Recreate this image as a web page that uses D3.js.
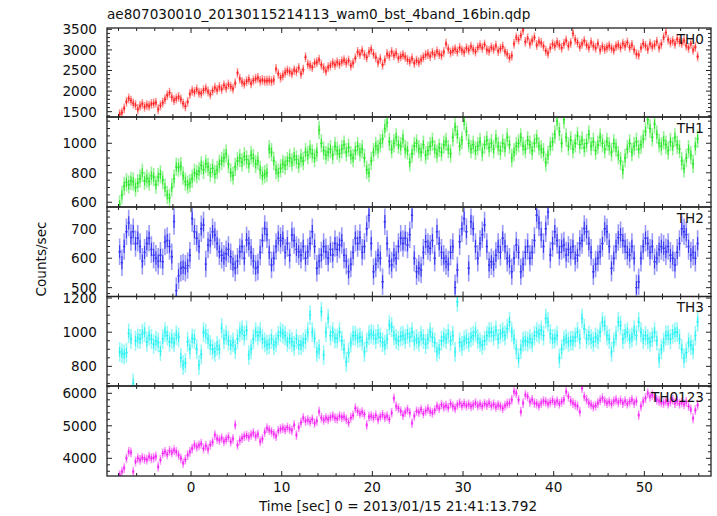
<!DOCTYPE html>
<html><head><meta charset="utf-8">
<script src="https://cdn.jsdelivr.net/npm/d3@7"></script>
<style>body{margin:0;background:#fff}svg{display:block}text{font-family:"DejaVu Sans",sans-serif;fill:#111}</style>
</head><body><svg id="c" width="717" height="516"></svg>
<script>
// ---- data ----
const titleText = "ae807030010_20130115214113_wam0_bst_4band_16bin.qdp";
const xLabel = "Time [sec] 0 = 2013/01/15 21:41:13.792";
const yLabel = "Counts/sec";
const panelNames = ["TH0", "TH1", "TH2", "TH3", "TH0123"];
const tStart = -7.875, binWidth = 0.25;   // bin centres
const xTicks = [0, 10, 20, 30, 40, 50];
const xMinorStep = 2;

const th0 = [
1440,1480,1580,1740, 1820,1770,1700,1660, 1560,1640,1690,1620, 1660,1640,1690,1700,
1720,1560,1650,1720, 1800,1900,1960,1850, 1780,1820,1860,1800, 1700,1630,1740,1930,
2010,1980,2040,1960, 1950,2020,2060,1990, 1920,2010,2080,2030, 2100,2050,2140,2080,
2160,2110,2060,2190, 2440,2300,2220,2180, 2240,2280,2190,2260, 2300,2320,2250,2270,
2250,2250,2260,2240, 2270,2540,2420,2330, 2380,2450,2500,2470, 2430,2510,2480,2560,
2420,2520,2820,2650, 2620,2580,2680,2700, 2760,2640,2560,2490, 2580,2620,2680,2640,
2700,2660,2720,2750, 2690,2740,2620,2680, 2800,2950,2900,2980, 2880,2820,2950,3010,
2900,2820,2700,2780, 2640,2750,2900,2860, 2950,2870,2920,2800, 2840,2880,2830,2760,
2720,2790,2680,2740, 2700,2760,2820,2880, 2900,2850,2930,2880, 2960,2900,2870,2950,
3150,3020,2940,2980, 3020,2960,3050,2990, 2950,3040,3000,3080, 3010,2960,3060,3110,
3050,3130,3000,2980, 3060,3020,3100,2970, 3030,3080,2960,2900, 2810,2860,3150,3300,
3250,3350,3480,3200, 3280,3150,3230,3300, 3120,3200,3170,3090, 2980,2920,3050,3140,
3100,3180,3120,3050, 3150,3230,3100,3170, 3400,3250,3180,3080, 3150,3220,3120,3060,
3180,3100,3050,3150, 3000,3080,3020,3060, 3100,3040,3000,3090, 3120,3060,3150,3100,
3180,3060,3120,3000, 2900,2880,3050,3150, 3100,3020,3150,3080, 3120,3200,3060,3140,
3300,3420,3250,3180, 3220,3150,3260,3200, 3170,3230,3100,3050, 3150,3000,3070,2840];

const th1 = [
585,650,710,735, 720,745,740,700, 730,760,800,745, 760,740,780,770,
720,770,790,750, 700,650,630,700, 760,840,835,845, 780,740,720,730,
760,800,790,810, 850,820,860,840, 800,830,790,820, 860,880,900,930,
860,800,780,840, 880,900,870,910, 890,860,920,900, 860,880,820,780,
790,800,960,940, 880,820,800,830, 860,850,880,900, 870,910,890,860,
900,880,940,920, 960,930,900,940, 1090,1000,950,920, 940,960,920,980,
950,930,960,990, 940,970,920,900, 950,980,940,960, 900,820,800,880,
940,980,960,1000, 1030,1100,1140,1010, 960,1000,1040,990, 980,1030,960,950,
870,930,980,1000, 960,940,990,920, 950,980,1010,960, 930,970,940,990,
1010,960,930,1040, 1110,1060,980,1020, 1150,1080,1000,960, 990,950,980,1010,
940,990,1020,970, 1000,960,1030,980, 950,1000,970,1040, 990,900,940,980,
1000,1040,980,960, 1020,990,950,1000, 1030,980,960,940, 870,920,980,1010,
1060,1150,1080,1000, 1160,1040,980,1020, 960,1000,1050,990, 1020,970,1000,1060,
980,1010,950,990, 1040,1000,960,1010, 980,940,1000,970, 920,880,820,900,
960,1000,940,980, 1010,960,990,1030, 1080,1160,1100,1040, 1130,1060,1000,980,
1020,990,950,1010, 980,1040,990,960, 880,830,900,960, 920,860,980,1030];

const th2 = [
622,585,640,690, 720,670,690,650, 668,640,590,620, 650,668,630,610,
600,590,610,588, 655,660,640,605, 725,490,540,566, 570,566,575,610,
735,690,668,640, 700,713,580,645, 660,690,679,650, 622,610,600,615,
630,605,580,567, 590,622,640,600, 662,650,620,590, 566,570,620,660,
701,680,620,577, 600,640,668,660, 668,620,650,610, 679,660,630,622,
610,640,600,622, 650,690,640,566, 590,611,640,622, 600,630,611,650,
630,645,660,610, 590,554,580,620, 668,650,670,620, 640,700,746,650,
554,580,610,600, 520,724,650,590, 577,611,600,640, 668,650,668,645,
680,746,600,554, 566,560,620,656, 640,634,660,600, 690,650,620,600,
588,580,620,640, 500,560,656,700, 735,690,566,724, 700,640,600,650,
680,713,640,577, 588,580,610,640, 620,668,640,600, 590,554,600,645,
620,554,580,620, 640,600,620,660, 746,720,680,640, 700,757,611,650,
690,660,620,640, 645,611,630,620, 640,600,610,650, 660,701,690,650,
620,554,580,600, 622,650,700,690, 640,566,600,640, 670,680,660,640,
620,611,640,600, 500,520,600,640, 668,650,620,640, 588,600,630,640,
634,622,640,610, 600,577,620,650, 700,690,680,640, 611,620,600,650];

const th3 = [
885,876,870,880, 993,960,700,950, 964,960,990,1000, 944,980,960,930,
950,940,890,960, 1000,980,944,960, 940,983,970,850, 808,820,944,900,
964,960,900,808, 870,1000,990,960, 925,900,885,920, 900,1024,960,983,
950,925,940,900, 960,1000,1012,980, 1010,866,900,960, 1000,980,1000,960,
940,925,930,960, 925,940,980,1000, 990,980,944,960, 944,920,960,925,
925,940,960,1000, 1100,1000,964,885, 900,1120,866,1000, 1080,980,1000,964,
964,1000,950,900, 827,880,940,980, 980,964,970,950, 885,940,983,990,
983,960,990,970, 940,925,960,1042, 1030,980,960,950, 975,980,960,990,
970,1000,950,960, 944,980,960,930, 960,1000,970,940, 885,900,950,970,
960,990,950,980, 885,1178,940,920, 950,960,940,970, 980,1000,960,940,
925,950,980,1000, 1000,980,1010,960, 990,1000,980,1020, 1061,1000,960,900,
847,900,944,950, 944,960,940,980, 1000,990,1010,980, 1080,1060,990,960,
964,980,847,900, 950,960,944,950, 950,970,1000,960, 1080,1020,960,980,
960,944,970,960, 1000,1060,1040,980, 960,885,940,980, 1060,1040,960,990,
1000,960,970,1010, 980,1060,1000,960, 980,960,944,970, 1000,950,847,900,
940,980,983,960, 990,1000,1000,960, 900,847,880,940, 925,900,980,1061];

const th0123 = [
3490,3590,3700,4000, 4200,4180,3590,3900, 4000,3950,4020,3980, 3960,4050,4000,4020,
4060,3740,3950,4150, 4200,4120,4230,4180, 4250,4200,4100,4000, 3850,3960,4100,4200,
4300,4410,4350,4400, 4450,4300,4380,4280, 4420,4500,4715,4600, 4560,4620,4520,4580,
4650,4510,4600,5025, 4410,4550,4620,4680, 4700,4650,4720,4780, 4680,4740,4520,4600,
4800,4925,4870,4820, 4750,4680,4850,4900, 4925,4880,4950,4900, 4860,5020,4715,4950,
5100,5240,5150,5180, 5125,5200,5080,5150, 5435,5250,5180,5240, 5200,5260,5300,5240,
5220,5300,5260,5280, 5200,5100,5250,5320, 5540,5450,5380,5420, 5350,5025,5280,5300,
5250,5320,5200,5280, 5340,5260,5300,5200, 5400,5846,5600,5540, 5450,5330,5420,5500,
5400,5085,5300,5450, 5420,5500,5380,5460, 5520,5440,5400,5480, 5600,5540,5650,5580,
5620,5560,5680,5600, 5540,5640,5700,5620, 5680,5620,5660,5600, 5640,5700,5620,5660,
5600,5680,5640,5700, 5620,5660,5580,5640, 5600,5540,5620,5680, 5700,5800,6050,6000,
5800,5435,5700,5950, 5900,5740,5800,5700, 5680,5620,5700,5760, 5740,5680,5720,5780,
5700,5760,5680,5740, 5800,6050,5900,5760, 5700,5650,5600,5435, 6160,5900,5800,5700,
5650,5590,5620,5700, 5780,5850,5760,5700, 5740,5680,5760,5800, 5720,5780,5700,5760,
5680,5740,5800,5700, 5760,5330,5600,5750, 5850,6000,5900,5950, 5880,5800,5760,5720,
5700,5760,5680,5740, 5800,5700,5760,5680, 5720,5660,5740,5600, 5500,5230,5480,5640];

const seriesValues = [th0, th1, th2, th3, th0123];
const errHalf = [120, 62, 45, 58, 150];               // typical 1-sigma error per band
const yDomains = [[1371,3532],[568,1178],[470,774],[685,1209],[3455,6225]];
const yMajorTicks = [[1500,2000,2500,3000,3500],[600,800,1000],[500,600,700],[800,1000,1200],[4000,5000,6000]];
const yMinorStep = [100, 50, 20, 50, 200];
const colors = ["#ff2a2a", "#2ee82e", "#3636f2", "#2ef2f2", "#f52cf5"];

// ---- layout ----
const svg = d3.select("#c");
const L = 107, R = 711;
const tops = [28, 117, 207, 296.5, 386], bots = [117, 207, 296.5, 386, 476];
const x = d3.scaleLinear().domain([-9.27, 57.35]).range([L, R]);
const xMinor = d3.range(-8, 58, xMinorStep);
const frame = "#222";
const fs = 13.6;

svg.append("text").attr("x", 107).attr("y", 19).attr("font-size", fs).text(titleText);

seriesValues.forEach((vals, p) => {
  const y = d3.scaleLinear().domain(yDomains[p]).range([bots[p], tops[p]]);
  const g = svg.append("g");
  const cid = "clip" + p;
  svg.append("clipPath").attr("id", cid).append("rect")
    .attr("x", L).attr("y", tops[p]).attr("width", R - L).attr("height", bots[p] - tops[p]);
  const data = vals.map((v, i) => ({t: tStart + i * binWidth, v}));
  const dg = g.append("g").attr("clip-path", `url(#${cid})`);
  const e = errHalf[p];
  dg.selectAll("line.err").data(data).join("line").attr("class", "err")
    .attr("x1", d => x(d.t)).attr("x2", d => x(d.t))
    .attr("y1", d => y(d.v - e)).attr("y2", d => y(d.v + e))
    .attr("stroke", colors[p]).attr("stroke-opacity", 0.5).attr("stroke-width", 1.6);
  dg.selectAll("line.bin").data(data).join("line").attr("class", "bin")
    .attr("x1", d => x(d.t - binWidth / 2)).attr("x2", d => x(d.t + binWidth / 2))
    .attr("y1", d => y(d.v)).attr("y2", d => y(d.v))
    .attr("stroke", colors[p]).attr("stroke-width", 1.4);
  dg.selectAll("line.cen").data(data).join("line").attr("class", "cen")
    .attr("x1", d => x(d.t)).attr("x2", d => x(d.t))
    .attr("y1", d => y(d.v - e * 0.5)).attr("y2", d => y(d.v + e * 0.5))
    .attr("stroke", colors[p]).attr("stroke-width", 1.1);

  // frame
  g.append("rect").attr("x", L).attr("y", tops[p]).attr("width", R - L).attr("height", bots[p] - tops[p])
    .attr("fill", "none").attr("stroke", frame).attr("stroke-width", 1.3);

  // x ticks (top & bottom, inward)
  const tk = g.append("g").attr("stroke", frame).attr("stroke-width", 1);
  xMinor.forEach(v => {
    const len = (v % 10 === 0) ? 5 : 3;
    tk.append("line").attr("x1", x(v)).attr("x2", x(v)).attr("y1", bots[p]).attr("y2", bots[p] - len);
    tk.append("line").attr("x1", x(v)).attr("x2", x(v)).attr("y1", tops[p]).attr("y2", tops[p] + len);
  });
  // y ticks
  const [d0, d1] = yDomains[p];
  const minors = d3.range(Math.ceil(d0 / yMinorStep[p]) * yMinorStep[p], d1, yMinorStep[p]);
  minors.forEach(v => {
    const len = yMajorTicks[p].includes(v) ? 5 : 3;
    tk.append("line").attr("x1", L).attr("x2", L + len).attr("y1", y(v)).attr("y2", y(v));
    tk.append("line").attr("x1", R).attr("x2", R - len).attr("y1", y(v)).attr("y2", y(v));
  });
  yMajorTicks[p].forEach(v => {
    g.append("text").attr("x", 97).attr("y", y(v)).attr("dy", "0.36em")
      .attr("text-anchor", "end").attr("font-size", fs).text(v);
  });
  g.append("text").attr("x", 704).attr("y", tops[p] + 15.5).attr("text-anchor", "end")
    .attr("font-size", fs).text(panelNames[p]);
});

// bottom x tick labels
xTicks.forEach(v => {
  svg.append("text").attr("x", x(v)).attr("y", 492).attr("text-anchor", "middle")
    .attr("font-size", fs).text(v);
});
svg.append("text").attr("x", 398).attr("y", 511).attr("text-anchor", "middle")
  .attr("font-size", fs).text(xLabel);
svg.append("text").attr("transform", "translate(46,259) rotate(-90)")
  .attr("text-anchor", "middle").attr("font-size", fs).text(yLabel);
</script></body></html>
